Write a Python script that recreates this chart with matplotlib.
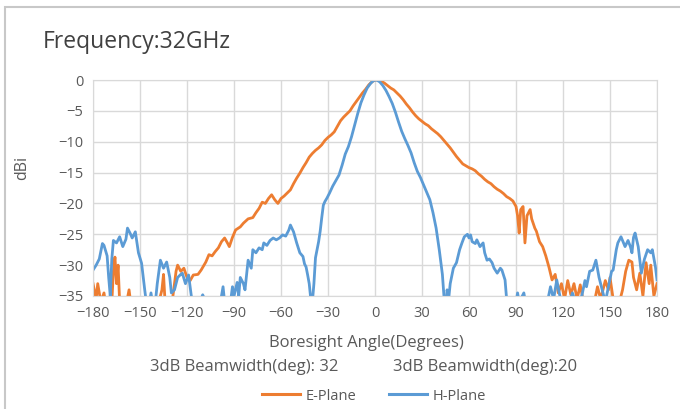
import numpy as np
import matplotlib.pyplot as plt
from matplotlib.patches import Rectangle
from matplotlib.lines import Line2D

plt.rcParams['font.family'] = ['Open Sans', 'DejaVu Sans']

# ---- data ----
e_angle = [-180, -178, -177, -175, -173, -171, -168, -167, -166, -165, -164, -163, -160, -157, -155,
           -140, -136, -135, -134, -130, -127, -126, -124, -122, -120, -118, -116, -113, -111, -108,
           -106, -104, -102, -100, -98, -96, -94, -93, -91, -89, -86, -84, -81, -78, -76, -74, -72,
           -70, -68, -66, -64, -62, -60, -58, -56, -54, -52, -50, -48, -46, -44, -42, -40, -38, -36,
           -34, -32, -30, -28, -26, -24, -22, -20, -18, -16, -14, -12, -10, -8, -6, -4, -2, 0, 2, 4,
           6, 8, 10, 12, 14, 16, 18, 20, 22, 24, 26, 28, 30, 32, 34, 36, 38, 40, 42, 44, 46, 48, 50,
           52, 54, 56, 58, 60, 62, 64, 66, 68, 70, 72, 74, 76, 78, 80, 82, 84, 86, 88, 90, 91, 92,
           93, 94.5, 95.7, 97, 99, 100, 102, 103, 105, 107, 109, 111, 113, 115, 117, 119, 121, 123,
           125, 127, 129, 131, 133, 136, 140, 142, 144, 147, 149, 150, 152, 155, 158, 160, 162, 164,
           165, 167, 169, 171, 173, 175, 176, 178, 180]
e_plane = [-33, -35.5, -33, -36, -34.5, -38, -36, -31, -28.7, -33, -30, -36, -38, -34, -38,
           -38, -34, -31.5, -36, -37, -31, -30, -31, -30.5, -32, -32.5, -31.6, -31.5, -30.8, -29.5,
           -28.3, -28.5, -27.8, -27.2, -26.2, -25.6, -26.5, -27, -25.5, -24.3, -23.8, -23.2, -22.5,
           -22.3, -21.5, -20.8, -19.8, -20, -19.2, -18.6, -19.4, -20, -19.2, -18.8, -18.3, -17.8,
           -16.8, -15.9, -15.1, -14.2, -13.4, -12.5, -11.9, -11.4, -11, -10.5, -9.8, -9.3, -8.9,
           -8.4, -7.5, -6.6, -6, -5.5, -5, -4.2, -3.5, -2.8, -2.1, -1.5, -0.8, -0.3, 0, 0, -0.2,
           -0.5, -0.9, -1.3, -1.6, -2.1, -2.6, -3.2, -3.9, -4.5, -5.2, -5.8, -6.3, -6.7, -7.1, -7.4,
           -7.9, -8.3, -8.7, -9.2, -9.8, -10.4, -11, -11.7, -12.4, -13, -13.6, -13.9, -14.2, -14.4,
           -14.7, -15.2, -15.6, -16.1, -16.5, -16.8, -17.3, -17.7, -18, -18.4, -18.9, -19.2, -19.6,
           -20.5, -22, -24.8, -21, -20.5, -26.4, -22, -21, -22.5, -24, -24.5, -26.2, -27, -28.5,
           -30.3, -32.4, -31.5, -34.5, -33, -35.5, -32.5, -34.8, -33, -35.5, -33.2, -36, -38, -36,
           -33.5, -35.5, -32.5, -34, -32, -35.5, -37, -34, -31, -29.2, -29.5, -32, -34, -31.3, -35,
           -29.6, -33, -30, -35, -33]

h_angle = [-180, -178, -176, -174, -173, -171, -170, -169, -168, -167, -165, -163, -161, -159, -158,
           -156, -155, -153, -151, -149, -147, -145, -143, -141, -139, -137, -135, -133, -131, -130,
           -128, -126, -124, -123, -121, -119, -117, -115, -110, -108, -100, -97, -96, -92, -91, -90,
           -88, -87, -86, -84, -83, -81, -79, -78, -76, -74, -72, -71, -69, -67, -65, -63, -61, -59,
           -57, -55, -54, -52, -50, -48, -46, -45, -44, -43, -42, -41, -40, -39, -38, -37, -36, -35,
           -34, -33, -32, -30.6, -29, -27, -25, -23, -21, -19, -17, -15, -13, -11, -9, -7, -5, -3,
           -1, 1, 3, 5, 7, 9, 11, 13, 15, 17, 19, 21, 23, 25, 27, 29, 31, 33, 35, 37, 39, 41, 43, 44,
           45, 46, 47, 48, 50, 52, 54, 55.5, 57, 59, 60, 61, 62, 64, 65, 67, 69, 70, 71.5, 73, 74.7,
           76, 78, 80, 81, 83, 84, 86, 90, 91, 92, 95, 96, 100, 110, 112, 114, 116, 118, 122, 126,
           128, 132, 134, 135, 137, 139, 141, 143, 145, 147, 149, 151, 152, 154, 155, 157, 158,
           159.6, 161.5, 163, 164, 165, 166, 168, 170, 172, 174, 176, 177, 179, 180]
h_plane = [-30.8, -30, -29, -26.5, -26.8, -28.5, -32, -35, -29, -26, -26.4, -25.4, -27, -25.8, -24,
           -25, -25.6, -24.6, -28, -29.7, -34, -38, -34.5, -38, -33, -29.2, -30.5, -29.5, -32, -34.5,
           -34, -32, -31.5, -31.3, -33, -31.6, -35.5, -38, -34.8, -36, -38, -33.5, -36, -35.5, -33.5,
           -35, -32.8, -35, -32, -33, -34, -29.2, -30.5, -27.5, -28, -27.2, -27.5, -26.4, -26.8, -26,
           -25.6, -25.9, -25.6, -25.1, -25.3, -24.3, -23.5, -24.6, -26.4, -28, -28.6, -29.8, -30.3,
           -31.6, -33, -35.5, -36, -33, -28.8, -27.5, -26.2, -24.5, -22.3, -20.3, -19.7, -19.1,
           -18.3, -17.2, -16.3, -15.4, -13.8, -12, -10.8, -9.2, -7.3, -5.4, -3.7, -2.4, -1.3, -0.6,
           -0.1, 0, -0.3, -0.9, -1.7, -2.7, -3.8, -5.2, -6.8, -8.3, -9.5, -10.6, -11.8, -13.4, -14.8,
           -15.8, -17, -18.2, -19.4, -21.5, -24, -27.5, -31.5, -35, -38, -34, -35.5, -33, -30.5,
           -29.6, -27.5, -26.4, -25.4, -25, -25.6, -25.1, -26.2, -26.5, -25.9, -27, -26.4, -28,
           -29.2, -29, -29.6, -30.5, -31.3, -30.5, -30.8, -32.4, -35.5, -38, -36, -34.5, -36, -34.5,
           -36, -38, -36, -33.5, -35.5, -32.4, -35, -38, -34.5, -36, -35, -32.5, -33.5, -31, -30.8,
           -29.2, -32, -34, -36, -33.5, -31, -30.8, -27.5, -26.4, -25.4, -26, -27, -26, -27, -28,
           -25.5, -24.8, -27, -31.3, -29, -27.5, -28, -27.5, -30.3, -32.4]

x_ticks = list(range(-180, 181, 30))
y_ticks = list(range(-35, 1, 5))

fig = plt.figure(figsize=(6.8, 4.09), dpi=100)
ax = fig.add_axes([0.1368, 0.2763, 0.8294, 0.5281])

ax.plot(e_angle, e_plane, color='#ED7D31', lw=2, solid_joinstyle='round')
ax.plot(h_angle, h_plane, color='#5B9BD5', lw=2, solid_joinstyle='round')

ax.set_xlim(-180, 180)
ax.set_ylim(-35, 0)
ax.set_xticks(x_ticks)
ax.set_yticks(y_ticks)
ax.grid(True, color='#D9D9D9', lw=1)
ax.set_axisbelow(True)
for s in ax.spines.values():
    s.set_color('#D9D9D9')
ax.tick_params(length=0, labelsize=10.5, colors='#595959', pad=7)

# outer chart border
fig.patches.append(Rectangle((5 / 680, -0.1), 1.0, 1 - 7 / 409 + 0.1, transform=fig.transFigure,
                             fill=False, edgecolor='#C8C8C8', lw=1.5))

fig.text(43 / 680, 1 - 42 / 409, 'Frequency:32GHz', fontsize=16.5, color='#404040', va='center')
fig.text(22 / 680, 1 - 168 / 409, 'dBi', rotation=90, fontsize=11.5, color='#595959',
         va='center', ha='center')
fig.text(366 / 680, 1 - 343 / 409, 'Boresight Angle(Degrees)', fontsize=12, color='#595959',
         ha='center', va='center')
fig.text(150 / 680, 1 - 367 / 409, '3dB Beamwidth(deg): 32', fontsize=12, color='#595959',
         va='center')
fig.text(393 / 680, 1 - 367 / 409, '3dB Beamwidth(deg):20', fontsize=12, color='#595959',
         va='center')

# legend
handles = [Line2D([], [], color='#ED7D31', lw=2.2), Line2D([], [], color='#5B9BD5', lw=2.2)]
fig.legend(handles, ['E-Plane', 'H-Plane'], loc='center', bbox_to_anchor=(374 / 680, 1 - 396 / 409),
           ncol=2, frameon=False, fontsize=10.5, labelcolor='#595959', handlelength=2.6,
           columnspacing=2.2, handletextpad=0.4)

fig.savefig('out.png', dpi=100)
